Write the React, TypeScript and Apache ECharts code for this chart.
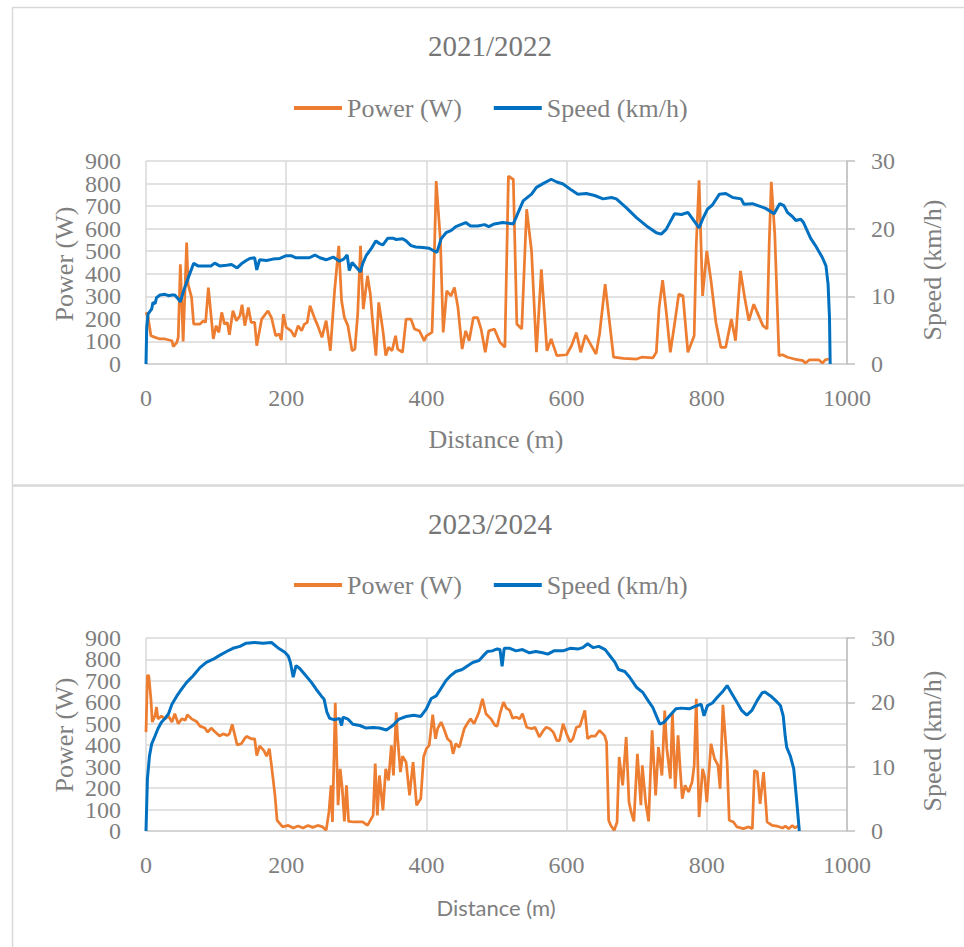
import React, { useEffect, useRef } from "react";
import * as echarts from "echarts";

// ---------- 2021/2022 ----------
const powerDist2122 = [0,3,7,13,20,27,37,39,44,46,49,53,58,60,65,68,77,82,85,89,96,100,104,108,112,116,119,124,129,134,137,141,146,150,155,158,165,174,179,185,190,193,196,200,207,212,217,222,226,230,234,241,245,251,257,263,269,275,279,283,288,294,298,302,306,310,316,320,324,328,332,338,342,346,351,356,359,366,371,378,383,390,397,400,408,410,414,420,424,429,435,440,445,451,456,461,467,473,478,484,489,497,505,512,517,524,529,536,543,550,557,564,572,578,586,600,607,614,620,627,642,647,655,667,681,700,707,723,728,732,737,742,748,754,760,766,773,782,785,789,794,800,806,813,820,827,835,841,848,854,860,867,873,880,886,889,892,897,903,908,915,925,937,941,946,960,965,969,974];
const powerW2122 = [229,206,125,118,111,111,103,77,96,118,442,100,538,354,295,177,177,192,184,339,111,170,140,229,177,184,130,236,192,214,263,170,251,184,184,81,199,236,206,125,133,106,221,162,147,121,170,147,177,184,258,199,170,118,192,59,324,524,280,206,170,59,66,221,524,243,391,310,162,37,273,147,37,74,59,125,66,52,199,199,155,147,103,125,140,324,811,546,140,324,302,339,251,66,147,103,206,206,155,52,147,155,96,74,833,818,177,155,686,501,52,420,59,111,37,41,81,140,52,128,44,133,354,30,25,22,30,27,52,251,372,236,52,177,310,302,52,125,531,814,302,501,369,184,74,74,199,103,413,295,192,265,221,170,155,531,808,575,37,41,30,22,15,4,18,18,4,18,22];
const speedDist2122 = [0,1,3,8,10,13,15,20,27,32,37,41,46,49,53,58,63,68,74,86,93,98,105,115,122,130,136,143,148,155,158,162,172,181,191,200,207,214,224,233,241,248,257,267,276,282,287,290,294,300,306,309,314,321,328,333,338,345,352,357,366,371,378,385,395,404,411,415,421,428,435,442,449,456,463,473,483,489,497,509,517,524,531,538,550,557,567,578,586,595,607,616,628,640,652,664,671,685,700,714,728,735,742,754,764,773,780,789,794,801,808,818,827,837,849,853,865,873,884,896,904,910,915,922,927,934,938,948,955,965,970,973,975,976];
const speedKmh2122 = [0,5.4,7.4,8.1,9.1,8.9,9.8,10.2,10.3,10.1,10.2,10.2,9.6,9.2,10.6,12.1,13.5,14.9,14.5,14.5,14.5,14.9,14.5,14.6,14.7,14.2,14.8,15.3,15.6,15.7,13.9,15.4,15.3,15.5,15.6,16.0,16.0,15.7,15.7,15.7,16.1,15.7,15.4,15.8,15.2,15.5,16.1,13.8,15.0,14.3,13.6,14.8,16.0,17.0,18.2,17.8,17.6,18.6,18.6,18.4,18.5,18.2,17.5,17.3,17.2,17.1,16.7,16.5,18.5,19.4,19.7,20.3,20.6,20.9,20.4,20.4,20.6,20.3,20.7,20.9,20.8,20.7,22.4,24.1,25.1,26.1,26.7,27.3,26.9,26.6,25.7,25.1,25.2,24.9,24.4,24.6,24.4,23.1,21.6,20.4,19.4,19.2,19.9,22.2,22.1,22.4,21.4,20.1,21.4,22.9,23.5,25.1,25.2,24.6,24.4,23.6,23.7,23.4,23.0,22.2,23.7,23.4,22.4,21.8,21.2,21.4,20.9,18.6,17.5,15.7,14.5,11.8,6.9,0];

// ---------- 2023/2024 ----------
const powerDist2324 = [0,2,4,7,9,13,15,17,22,27,32,37,41,46,51,56,59,65,72,77,84,88,93,98,105,110,116,119,123,130,136,141,144,150,155,158,162,168,172,176,179,184,187,191,195,203,210,217,224,231,238,245,252,257,261,264,266,270,274,277,280,283,286,289,297,309,316,324,327,330,333,338,342,346,350,353,357,359,363,366,371,376,381,386,392,396,400,404,409,413,416,421,425,430,435,438,442,447,454,459,463,468,475,480,485,492,498,501,505,510,514,519,523,528,533,537,543,550,555,561,567,571,576,581,586,590,595,600,605,609,614,619,626,630,635,641,647,654,657,660,663,668,672,675,680,685,689,692,696,701,706,708,713,717,722,727,731,736,740,743,748,751,755,759,762,765,769,774,779,782,785,789,794,797,800,806,811,816,819,823,829,832,838,843,852,860,865,868,872,876,881,886,893,900,908,912,917,922,926,931];
const powerW2324 = [461,725,725,616,508,539,578,523,536,523,536,508,547,500,523,516,542,523,511,489,480,461,480,464,443,453,446,453,497,402,407,433,441,430,430,352,396,376,349,384,306,166,50,34,19,26,14,23,14,26,17,26,19,3,89,213,42,598,120,290,197,45,213,45,42,42,26,73,314,73,259,96,290,236,399,259,554,430,275,349,321,166,321,120,151,345,384,399,542,430,477,508,477,430,415,360,407,391,477,505,523,500,554,616,547,523,492,489,547,601,573,562,526,531,523,547,484,477,484,438,469,484,477,461,422,422,500,453,415,430,484,489,562,430,443,443,469,446,415,50,26,3,42,345,213,438,135,89,45,360,120,306,127,45,469,166,391,259,562,384,244,554,197,446,290,151,213,182,228,306,616,65,290,252,135,407,337,306,197,588,321,50,42,19,11,19,11,283,275,127,275,42,26,23,14,23,11,26,14,26];
const speedDist2324 = [0,2,5,8,13,17,22,27,32,37,44,51,58,67,77,86,96,105,115,124,134,143,155,167,179,188,198,203,206,210,214,219,226,236,243,250,254,258,262,269,276,279,281,288,295,305,314,324,333,343,352,361,371,382,392,400,407,414,421,428,435,442,451,459,466,475,480,487,494,501,505,508,511,519,528,537,547,556,566,573,582,595,605,617,623,630,638,646,655,662,669,674,683,690,700,709,716,723,728,733,739,747,756,763,775,784,792,796,801,808,815,822,829,836,843,850,857,864,872,879,883,891,898,905,909,912,914,919,924,928,932];
const speedKmh2324 = [0,8.1,11.7,13.5,14.8,15.9,16.9,17.5,18.2,19.7,21.0,22.1,23.1,24.1,25.4,26.2,26.7,27.3,27.9,28.4,28.7,29.2,29.3,29.2,29.3,28.5,27.8,27.2,26.2,23.9,25.7,25.3,24.4,23.1,22.0,21.0,20.5,18.5,17.5,17.3,17.5,16.4,17.7,17.4,16.6,16.4,16.0,16.1,16.0,15.7,16.4,17.4,17.8,18.0,17.8,19.0,20.6,21.0,22.2,23.4,24.2,24.8,25.1,25.7,26.2,26.5,27.1,27.9,28.0,28.3,28.2,25.6,28.4,28.4,28.0,28.2,27.7,27.9,27.7,27.5,28.0,28.0,28.4,28.3,28.5,29.1,28.5,28.7,28.2,27.2,26.2,25.1,24.8,23.9,22.3,21.5,20.3,19.2,17.9,16.6,16.9,17.9,19.0,19.1,19.0,19.4,19.7,17.9,19.5,19.9,20.8,21.6,22.6,21.3,20.0,18.7,18.0,18.7,20.3,21.5,21.6,21.0,20.3,19.5,17.9,14.6,13.0,11.7,9.7,5.0,0];

// ---------- texts & ticks ----------
const chartTitles = ["2021/2022", "2023/2024"];
const seriesNames = ["Power (W)", "Speed (km/h)"];
const xTitle = "Distance (m)";
const yLeftTitle = "Power (W)";
const yRightTitle = "Speed (km/h)";
const powerTicks = [0, 100, 200, 300, 400, 500, 600, 700, 800, 900];

const SERIF = "'Liberation Serif', 'Times New Roman', serif";
const SANS = "Lato, 'Open Sans', sans-serif";
const GREY = "#7f7f7f";
const ORANGE = "#ED7D31";
const BLUE = "#0070C0";

const pairs = (xs: number[], ys: number[]) => xs.map((x, i) => [x, ys[i]]);
const plain = (v: number) => String(v);

export default function App() {
  const ref = useRef<HTMLDivElement>(null);
  useEffect(() => {
    if (!ref.current) return;
    const chart = echarts.init(ref.current, undefined, { renderer: "svg" });

    const grids = [
      { left: 146, top: 161, width: 701, height: 203 },
      { left: 146, top: 638, width: 701, height: 193 },
    ];
    const xAxes = grids.map((_, i) => ({
      type: "value",
      gridIndex: i,
      min: 0,
      max: 1000,
      interval: 200,
      axisLine: { show: true, lineStyle: { color: "#d0d0d0", width: 1.5 } },
      axisTick: { show: false },
      axisLabel: {
        color: GREY,
        fontFamily: SERIF,
        fontSize: 24,
        margin: 22,
        formatter: plain,
        showMinLabel: true,
        showMaxLabel: true,
      },
      splitLine: { show: true, lineStyle: { color: "#d9d9d9", width: 1.5 } },
    }));
    const yAxes: any[] = [];
    grids.forEach((_, i) => {
      yAxes.push({
        type: "value",
        gridIndex: i,
        position: "left",
        min: 0,
        max: 900,
        interval: 100,
        axisLine: { show: false },
        axisTick: { show: false },
        // tick labels are placed below from the axis' own scale (they sit too tight for ECharts' overlap hiding)
        axisLabel: { show: false },
        splitLine: { show: true, lineStyle: { color: "#d9d9d9", width: 1.5 } },
      });
      yAxes.push({
        type: "value",
        gridIndex: i,
        position: "right",
        min: 0,
        max: 30,
        interval: 10,
        axisLine: { show: true, lineStyle: { color: "#bfbfbf", width: 1.5 } },
        axisTick: { show: true, inside: false, length: 8, lineStyle: { color: "#bfbfbf", width: 1.5 } },
        axisLabel: {
          color: GREY,
          fontFamily: SERIF,
          fontSize: 24,
          margin: 24,
          formatter: plain,
          showMinLabel: true,
          showMaxLabel: true,
        },
        splitLine: { show: false },
      });
    });

    const data = [
      [pairs(powerDist2122, powerW2122), pairs(speedDist2122, speedKmh2122)],
      [pairs(powerDist2324, powerW2324), pairs(speedDist2324, speedKmh2324)],
    ];
    const series: any[] = [];
    data.forEach((d, i) => {
      series.push({
        type: "line",
        name: seriesNames[0],
        xAxisIndex: i,
        yAxisIndex: i * 2,
        data: d[0],
        showSymbol: false,
        symbol: "none",
        lineStyle: { color: ORANGE, width: 2.75 },
        itemStyle: { color: ORANGE },
      });
      series.push({
        type: "line",
        name: seriesNames[1],
        xAxisIndex: i,
        yAxisIndex: i * 2 + 1,
        data: d[1],
        showSymbol: false,
        symbol: "none",
        lineStyle: { color: BLUE, width: 3 },
        itemStyle: { color: BLUE },
      });
    });

    const titleCenters = [47, 525];
    const legendCenters = [108, 585];
    const xTitleCenters = [439, 907];
    const plotCenters = [264, 735];

    const graphics: any[] = [
      { id: "b1", type: "line", shape: { x1: 12, y1: 7.5, x2: 964, y2: 7.5 }, style: { stroke: "#d9d9d9", lineWidth: 1.5 } },
      { id: "b2", type: "line", shape: { x1: 12.5, y1: 7, x2: 12.5, y2: 947 }, style: { stroke: "#d9d9d9", lineWidth: 1.5 } },
      { id: "b3", type: "line", shape: { x1: 12, y1: 485.5, x2: 964, y2: 485.5 }, style: { stroke: "#d9d9d9", lineWidth: 2.5 } },
    ];
    [0, 1].forEach((i) => {
      graphics.push({
        id: "xt" + i,
        type: "text",
        x: 496,
        y: xTitleCenters[i],
        style: {
          text: xTitle,
          fill: GREY,
          font: i === 0 ? `26px ${SERIF}` : `22px ${SANS}`,
          align: "center",
          verticalAlign: "middle",
        },
      });
      graphics.push({
        id: "yl" + i,
        type: "text",
        x: 64,
        y: plotCenters[i],
        rotation: Math.PI / 2,
        style: { text: yLeftTitle, fill: GREY, font: `26px ${SERIF}`, align: "center", verticalAlign: "middle" },
      });
      graphics.push({
        id: "yr" + i,
        type: "text",
        x: 932,
        y: plotCenters[i] + 6,
        rotation: Math.PI / 2,
        style: { text: yRightTitle, fill: GREY, font: `26px ${SERIF}`, align: "center", verticalAlign: "middle" },
      });
    });

    chart.setOption({
      animation: false,
      backgroundColor: "#ffffff",
      title: chartTitles.map((t, i) => ({
        text: t,
        left: 490,
        top: titleCenters[i] - 16,
        textAlign: "center",
        padding: 0,
        textStyle: { color: "#767676", fontFamily: SERIF, fontSize: 29, fontWeight: "normal" },
      })),
      legend: [0, 1].map((i) => ({
        data: seriesNames,
        left: 294,
        top: legendCenters[i] - 13,
        padding: 0,
        icon: "rect",
        itemWidth: 48,
        itemHeight: 4,
        itemGap: 32,
        selectedMode: false,
        textStyle: { color: GREY, fontFamily: SERIF, fontSize: 26 },
      })),
      grid: grids,
      xAxis: xAxes,
      yAxis: yAxes,
      series,
      graphic: graphics,
    });

    // Power tick labels, positioned through the axis' own scale
    const tickTexts: any[] = [];
    [0, 1].forEach((i) => {
      const axisX = chart.convertToPixel({ xAxisIndex: i }, 0) as number;
      powerTicks.forEach((v) => {
        const y = chart.convertToPixel({ yAxisIndex: i * 2 }, v) as number;
        tickTexts.push({
          id: `pt${i}_${v}`,
          type: "text",
          x: axisX - 25,
          y: y,
          style: {
            text: String(v),
            fill: GREY,
            font: `24px ${SERIF}`,
            lineHeight: 18,
            align: "right",
            verticalAlign: "middle",
          },
        });
      });
    });
    chart.setOption({ graphic: graphics.concat(tickTexts) });

    return () => chart.dispose();
  }, []);
  return (
    <div
      ref={ref}
      style={{ position: "absolute", left: 0, top: 0, width: 964, height: 947 }}
    />
  );
}
